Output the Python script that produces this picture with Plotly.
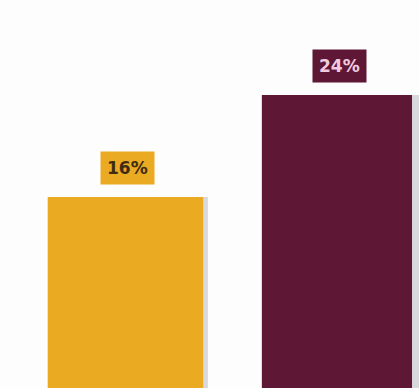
import plotly.graph_objects as go

categories = ["A", "B"]
values = [16, 24]
labels = ["16%", "24%"]
bar_colors = ["#EAAA22", "#5E1735"]
label_bg = ["#EAAA22", "#5E1735"]
label_fg = ["#3E2C12", "#F2CBE0"]

xs = [0, 1]

fig = go.Figure()
# soft shadow
fig.add_trace(go.Bar(x=[x + 0.03 for x in xs], y=values, width=0.72,
                     marker=dict(color="rgba(150,150,160,0.35)", line=dict(width=0)),
                     hoverinfo="skip", showlegend=False))
fig.add_trace(go.Bar(x=xs, y=values, width=[0.735, 0.71],
                     marker=dict(color=bar_colors, line=dict(width=0)),
                     showlegend=False))

for x, v, t, bg, fg in zip(xs, values, labels, label_bg, label_fg):
    fig.add_annotation(x=x + 0.01, y=v, text="<b>" + t + "</b>", showarrow=False,
                       yshift=29, font=dict(family="DejaVu Sans", size=17, color=fg),
                       bgcolor=bg, borderpad=6)

fig.update_layout(
    width=419, height=388,
    margin=dict(l=0, r=0, t=0, b=0),
    paper_bgcolor="#FDFDFD", plot_bgcolor="#FDFDFD",
    barmode="overlay",
    xaxis=dict(range=[-0.593, 1.388], visible=False),
    yaxis=dict(range=[1.02, 31.45], visible=False),
)
fig.write_html("out.html")
